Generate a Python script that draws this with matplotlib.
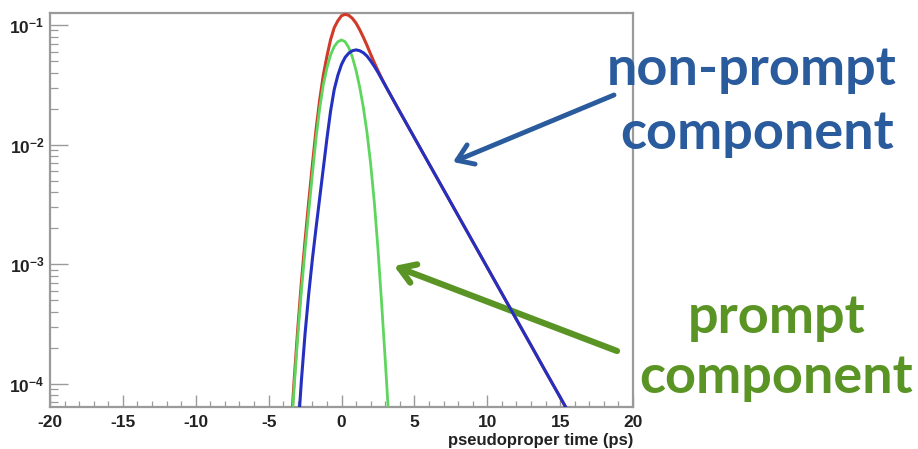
import matplotlib
matplotlib.use("Agg")
import matplotlib.pyplot as plt
from matplotlib.ticker import LogLocator, MultipleLocator, NullFormatter

plt.rcParams["axes.unicode_minus"] = False

# curves (pseudoproper time in ps)
t_prompt = [-3.5, -3.25, -3.0, -2.75, -2.5, -2.25, -2.0, -1.75, -1.5, -1.25,
            -1.0, -0.75, -0.5, -0.25, 0.0, 0.25, 0.5, 0.75, 1.0, 1.25,
            1.5, 1.75, 2.0, 2.25, 2.5, 2.75, 3.0, 3.25, 3.5]
prompt = [3.16e-5, 9.33e-5, 2.51e-4, 6.03e-4, 1.318e-3, 2.754e-3, 5.62e-3, 0.01122, 0.01995, 0.03162,
          0.04365, 0.05623, 0.06607, 0.07244, 0.07499, 0.07244, 0.06457, 0.05370, 0.04169, 0.03020,
          0.02042, 0.01259, 6.92e-3, 3.31e-3, 1.349e-3, 4.79e-4, 1.585e-4, 5.01e-5, 1.51e-5]

t_nonprompt = [-3.25, -3.0, -2.75, -2.5, -2.25, -2.0, -1.75, -1.5, -1.25, -1.0,
               -0.75, -0.5, -0.25, 0.0, 0.25, 0.5, 0.75, 1.0, 1.25, 1.5,
               1.75, 2.0, 2.25, 2.5, 2.75, 3.0, 3.5, 4.0, 5.0, 6.0,
               7.0, 8.0, 9.0, 10.0, 11.0, 12.0, 13.0, 14.0, 15.0, 16.0]
nonprompt = [1.26e-5, 3.80e-5, 1.07e-4, 2.63e-4, 5.62e-4, 1.096e-3, 1.995e-3, 3.548e-3, 6.31e-3, 0.01122,
             0.01905, 0.02884, 0.03802, 0.04677, 0.05370, 0.05821, 0.06095, 0.06194, 0.06095, 0.05861,
             0.05495, 0.05012, 0.04519, 0.04027, 0.03548, 0.03126, 0.02427, 0.01884, 0.01143, 6.93e-3,
             4.21e-3, 2.553e-3, 1.549e-3, 9.40e-4, 5.70e-4, 3.46e-4, 2.10e-4, 1.27e-4, 7.73e-5, 4.69e-5]

t_total = [-3.5, -3.25, -3.0, -2.75, -2.5, -2.25, -2.0, -1.75, -1.5, -1.25,
           -1.0, -0.75, -0.5, -0.25, 0.0, 0.25, 0.5, 0.75, 1.0, 1.25,
           1.5, 1.75, 2.0, 2.25, 2.5, 2.75, 3.0, 3.5, 4.0, 5.0,
           6.0, 7.0, 8.0, 9.0, 10.0, 11.0, 12.0, 13.0, 14.0, 15.0, 16.0]
total = [3.56e-5, 1.06e-4, 2.89e-4, 7.10e-4, 1.581e-3, 3.316e-3, 6.72e-3, 0.01322, 0.02350, 0.03793,
         0.05487, 0.07528, 0.09491, 0.1085, 0.1195, 0.1228, 0.1205, 0.1135, 0.1036, 0.0912,
         0.0790, 0.0675, 0.0570, 0.0485, 0.0416, 0.0360, 0.0314, 0.02428, 0.01884, 0.01143,
         6.93e-3, 4.21e-3, 2.553e-3, 1.549e-3, 9.40e-4, 5.70e-4, 3.46e-4, 2.10e-4, 1.27e-4, 7.73e-5, 4.69e-5]

x_range = (-20, 20)
y_range = (6.4e-5, 0.126)

W, H = 918, 449
fig = plt.figure(figsize=(W / 100, H / 100), dpi=100)
ax = fig.add_axes([50 / W, 1 - 407 / H, 583 / W, 394 / H])

ax.plot(t_total, total, color="#d03a28", lw=2.2, zorder=3)
ax.plot(t_prompt, prompt, color="#5ed65e", lw=2.0, zorder=4)
ax.plot(t_nonprompt, nonprompt, color="#2430c0", lw=2.2, zorder=5)

ax.set_yscale("log")
ax.set_xlim(*x_range)
ax.set_ylim(*y_range)

frame = "#9a9a9a"
for s in ax.spines.values():
    s.set_color(frame)
    s.set_linewidth(1.6)

ax.xaxis.set_major_locator(MultipleLocator(5))
ax.xaxis.set_minor_locator(MultipleLocator(1))
ax.yaxis.set_major_locator(LogLocator(base=10, numticks=10))
ax.yaxis.set_minor_locator(LogLocator(base=10, subs=range(2, 10), numticks=20))
ax.yaxis.set_minor_formatter(NullFormatter())
ax.tick_params(axis="both", which="both", direction="in", colors=frame)
ax.tick_params(axis="y", which="major", length=13, width=1.0, labelsize=12.5, pad=4)
ax.tick_params(axis="y", which="minor", length=6, width=0.9)
ax.tick_params(axis="x", which="major", length=9, width=1.0, labelsize=12.5, pad=6)
ax.tick_params(axis="x", which="minor", length=4.5, width=0.9)
for lab in ax.get_xticklabels() + ax.get_yticklabels():
    lab.set_color("#222222")
    lab.set_fontweight("bold")
    lab.set_family("Liberation Sans")

fig.text(633 / W, 1 - 441 / H, "pseudoproper time (ps)", ha="right", va="center",
         fontsize=12, fontweight="bold", color="#222222", family="Liberation Sans")

# hand-drawn style notes
blue_ink = "#2a5b9c"
green_ink = "#5a9424"
note_size = 39
fig.text(752 / W, 1 - 70 / H, "non-prompt", ha="center", va="center",
         fontsize=note_size, color=blue_ink, family="Lato", fontweight="bold")
fig.text(757 / W, 1 - 133 / H, "component", ha="center", va="center",
         fontsize=note_size, color=blue_ink, family="Lato", fontweight="bold")
fig.text(777 / W, 1 - 318 / H, "prompt", ha="center", va="center",
         fontsize=note_size, color=green_ink, family="Lato", fontweight="bold")
fig.text(776 / W, 1 - 378 / H, "component", ha="center", va="center",
         fontsize=note_size, color=green_ink, family="Lato", fontweight="bold")

ax.annotate("", xy=(453, H - 162), xytext=(614, H - 95),
            xycoords="figure pixels", textcoords="figure pixels",
            arrowprops=dict(arrowstyle="->,head_length=1.1,head_width=0.75",
                            color=blue_ink, lw=3.5, shrinkA=0, shrinkB=0),
            annotation_clip=False)
ax.annotate("", xy=(394, H - 266), xytext=(617, H - 351),
            xycoords="figure pixels", textcoords="figure pixels",
            arrowprops=dict(arrowstyle="->,head_length=1.1,head_width=0.7",
                            color=green_ink, lw=4.5, shrinkA=0, shrinkB=0),
            annotation_clip=False)

fig.savefig("out.png", dpi=100)
